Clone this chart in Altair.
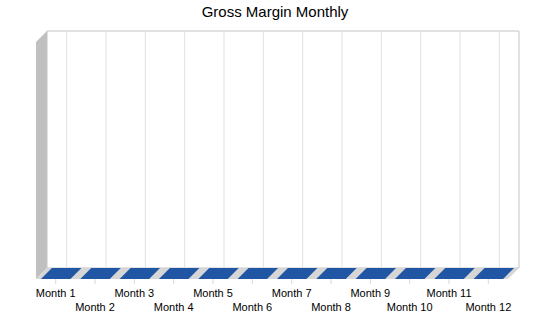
import altair as alt
import pandas as pd

# ---- data ----
months = ["Month 1", "Month 2", "Month 3", "Month 4", "Month 5", "Month 6",
          "Month 7", "Month 8", "Month 9", "Month 10", "Month 11", "Month 12"]
gross_margin = [0, 0, 0, 0, 0, 0, 0, 0, 0, 0, 0, 0]
title_text = "Gross Margin Monthly"

# ---- style / geometry constants ----
N = len(months)
X_RANGE = [36, 508]          # front plane, pixels
Y_RANGE = [279, 42]
Y_MAX = 1.0
DEPTH_PX = 11
DX = DEPTH_PX / ((X_RANGE[1] - X_RANGE[0]) / N)
DY = DEPTH_PX / (Y_RANGE[0] - Y_RANGE[1]) * Y_MAX
GAP = 0.125                  # half gap on each side of a bar
FONT = "Liberation Sans"
BLUE = "#2156a5"

xs = alt.Scale(domain=[0, N], range=X_RANGE, nice=False, zero=False)
ys = alt.Scale(domain=[0, Y_MAX], range=Y_RANGE, nice=False, zero=False)

def X(f):
    return alt.X(f, type="quantitative", scale=xs, axis=None)

def Y(f):
    return alt.Y(f, type="quantitative", scale=ys, axis=None)

# left wall
left_df = pd.DataFrame({"x": [0, DX], "y": [0, DY], "y2": [Y_MAX, Y_MAX + DY]})
left_wall = alt.Chart(left_df).mark_area(color="#c0c0c0", orient="vertical").encode(
    x=X("x"), y=Y("y"), y2="y2")

# back wall
back_df = pd.DataFrame({"x": [DX], "x2": [N + DX], "y": [DY], "y2": [Y_MAX + DY]})
back_wall = alt.Chart(back_df).mark_rect(fill="white", stroke="#c4c4c4", strokeWidth=1).encode(
    x=X("x"), x2="x2", y=Y("y"), y2="y2")

# gridlines on back wall
grid_df = pd.DataFrame({"x": [i + 0.5 + DX for i in range(N)], "y": DY, "y2": Y_MAX + DY})
grid = alt.Chart(grid_df).mark_rule(color="#e0e0e0", strokeWidth=1).encode(
    x=X("x"), y=Y("y"), y2="y2")

# floor
floor_df = pd.DataFrame({"y": [0, DY], "x": [0, DX], "x2": [N, N + DX]})
floor = alt.Chart(floor_df).mark_area(color="#d6d6d6", orient="horizontal").encode(
    y=Y("y"), x=X("x"), x2="x2")

# bars (top faces and front faces)
rows = []
front_rows = []
for i, (m, v) in enumerate(zip(months, gross_margin)):
    for d in (0, 1):
        rows.append({"month": m, "y": v + d * DY,
                     "x": i + GAP + d * DX, "x2": i + 1 - GAP + d * DX})
    front_rows.append({"month": m, "x": i + GAP, "x2": i + 1 - GAP, "y": 0, "y2": v})
bar_top = alt.Chart(pd.DataFrame(rows)).mark_area(color=BLUE, orient="horizontal").encode(
    y=Y("y"), x=X("x"), x2="x2", detail="month:N")
bar_front = alt.Chart(pd.DataFrame(front_rows)).mark_rect(color=BLUE).encode(
    x=X("x"), x2="x2", y=Y("y"), y2="y2")

# ticks and labels
lab_df = pd.DataFrame({"month": months, "x": [i + 0.5 for i in range(N)],
                       "y": 0, "row": [i % 2 for i in range(N)]})
ticks = alt.Chart(lab_df).mark_tick(orient="vertical", size=5, yOffset=2.5,
                                     thickness=1, color="#c8c8c8").encode(x=X("x"), y=Y("y"))
labels_a = alt.Chart(lab_df).transform_filter("datum.row == 0").mark_text(
    font=FONT, fontSize=11, dy=18, baseline="alphabetic", color="black").encode(
    x=X("x"), y=Y("y"), text="month:N")
labels_b = alt.Chart(lab_df).transform_filter("datum.row == 1").mark_text(
    font=FONT, fontSize=11, dy=32, baseline="alphabetic", color="black").encode(
    x=X("x"), y=Y("y"), text="month:N")

chart = alt.layer(left_wall, back_wall, grid, floor, bar_top, bar_front, ticks, labels_a, labels_b).properties(
    width=550, height=318,
    autosize=alt.AutoSizeParams(type="none"),
    padding=0,
    background="white",
    title=alt.Title(title_text, font=FONT, fontSize=15, fontWeight="normal", color="black",
                    anchor="middle", frame="group", baseline="alphabetic", offset=-17, dy=15),
).configure_view(stroke=None)

chart.save("out.html", embed_options={"renderer": "svg", "actions": False})
